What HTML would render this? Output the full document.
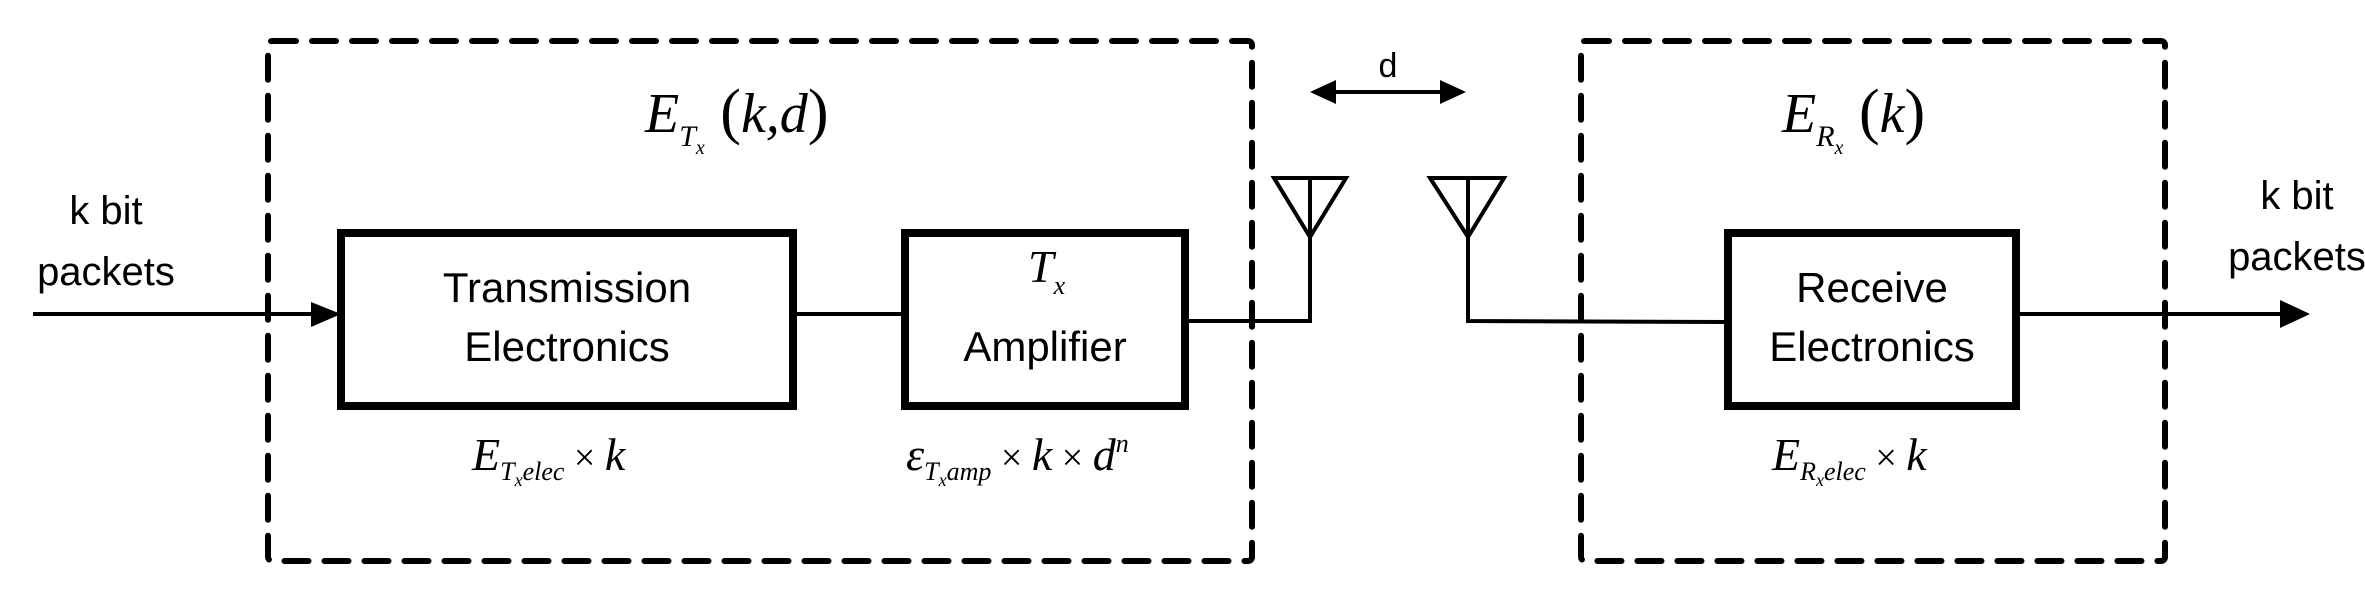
<!DOCTYPE html>
<html><head><style>
html,body{margin:0;padding:0;background:#fff;}
svg{display:block;}
.s{font-family:"Liberation Sans",sans-serif;}
.m{font-family:"Liberation Serif",serif;font-style:italic;}
</style></head><body>
<svg width="2365" height="590" viewBox="0 0 2365 590" xmlns="http://www.w3.org/2000/svg">
<g fill="none" stroke="#000" stroke-width="6" stroke-dasharray="24,16" stroke-linecap="round">
<rect x="268" y="41" width="984" height="520" rx="4"/>
<rect x="1581" y="41" width="584" height="520" rx="4"/>
</g>
<g fill="#fff" stroke="#000" stroke-width="8">
<rect x="341" y="233" width="452" height="173"/>
<rect x="905" y="233" width="280" height="173"/>
<rect x="1728" y="233" width="288" height="173"/>
</g>
<g stroke="#000" stroke-width="4" fill="none">
<line x1="33" y1="314" x2="315" y2="314"/>
<line x1="793" y1="314" x2="905" y2="314"/>
<polyline points="1185,321 1310,321 1310,237"/>
<polyline points="1468,237 1468,321 1728,322"/>
<line x1="2016" y1="314" x2="2285" y2="314"/>
<line x1="1330" y1="92" x2="1446" y2="92"/>
<polygon points="1274,178 1346,178 1310,237"/>
<line x1="1310" y1="178" x2="1310" y2="237"/>
<polygon points="1430,178 1504,178 1468,237"/>
<line x1="1468" y1="178" x2="1468" y2="237"/>
</g>
<g fill="#000">
<polygon points="311,302 341,314 311,327"/>
<polygon points="2280,300 2310,314 2280,328"/>
<polygon points="1310,92 1336,80 1336,104"/>
<polygon points="1466,92 1440,80 1440,104"/>
</g>
<g class="s" font-size="40" text-anchor="middle" fill="#000">
<text x="106" y="224">k bit</text>
<text x="106" y="285">packets</text>
<text x="2297" y="209">k bit</text>
<text x="2297" y="270">packets</text>
<g font-size="42">
<text x="567" y="302">Transmission</text>
<text x="567" y="361">Electronics</text>
<text x="1045" y="361">Amplifier</text>
<text x="1872" y="302">Receive</text>
<text x="1872" y="361">Electronics</text>
</g>
<text x="1388" y="77" font-size="34">d</text>
</g>
<g class="m" fill="#000">
<text x="645" y="132" font-size="56">E<tspan font-size="30" dy="14">T</tspan><tspan font-size="20" dy="8">x</tspan><tspan font-style="normal" font-size="62" dy="-22"> (</tspan>k,d<tspan font-style="normal" font-size="62">)</tspan></text>
<text x="1028" y="282" font-size="46">T<tspan font-size="26" dy="12">x</tspan></text>
<text x="472" y="470" font-size="46">E<tspan font-size="26" dy="10">T</tspan><tspan font-size="18" dy="6">x</tspan><tspan font-size="26" dy="-6">elec</tspan><tspan font-style="normal" font-size="38" dy="-10"> × </tspan>k</text>
<text x="906" y="470" font-size="46">ε<tspan font-size="26" dy="10">T</tspan><tspan font-size="18" dy="6">x</tspan><tspan font-size="26" dy="-6">amp</tspan><tspan font-style="normal" font-size="38" dy="-10"> × </tspan>k<tspan font-style="normal" font-size="38"> × </tspan>d<tspan font-size="26" dy="-18">n</tspan></text>
<text x="1772" y="470" font-size="46">E<tspan font-size="26" dy="10">R</tspan><tspan font-size="18" dy="6">x</tspan><tspan font-size="26" dy="-6">elec</tspan><tspan font-style="normal" font-size="38" dy="-10"> × </tspan>k</text>
<text x="1782" y="132" font-size="56">E<tspan font-size="30" dy="14">R</tspan><tspan font-size="20" dy="8">x</tspan><tspan font-style="normal" font-size="62" dy="-22"> (</tspan>k<tspan font-style="normal" font-size="62">)</tspan></text>
</g>
</svg>
</body></html>
